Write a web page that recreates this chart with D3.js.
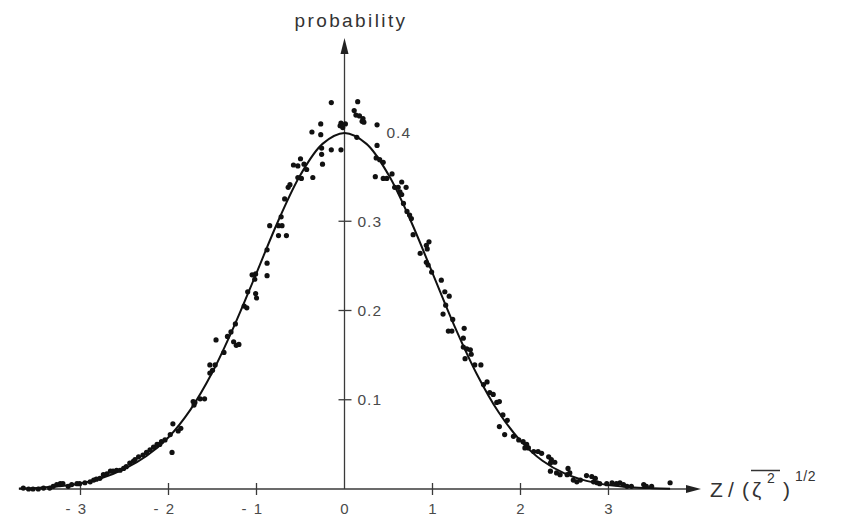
<!DOCTYPE html>
<html><head><meta charset="utf-8">
<script src="https://cdn.jsdelivr.net/npm/d3@7"></script>
<style>
html,body{margin:0;padding:0;background:#fff;}
svg{display:block;}
text{font-family:"Liberation Sans","DejaVu Sans",sans-serif;}
</style></head>
<body>
<svg id="chart" width="844" height="517"></svg>
<script>
// ---- data ----
const xTicks = [-3, -2, -1, 0, 1, 2, 3];
const xTickLabels = ["- 3", "- 2", "- 1", "0", "1", "2", "3"];
const yTicks = [0.1, 0.2, 0.3, 0.4];
const yTickLabels = ["0.1", "0.2", "0.3", "0.4"];
const yTitle = "probability";

// fitted curve
const curveZ = [-3.7,-3.5,-3.25,-3,-2.75,-2.5,-2.25,-2,-1.75,-1.5,-1.25,-1,-0.75,-0.5,-0.25,0,0.25,0.5,0.75,1,1.25,1.5,1.75,2,2.25,2.5,2.75,3,3.25,3.5,3.7];
const curveP = [0.0005,0.0012,0.003,0.0062,0.0125,0.0225,0.037,0.058,0.089,0.131,0.1835,0.242,0.3011,0.3521,0.3867,0.3989,0.3867,0.3521,0.3011,0.242,0.1826,0.1295,0.0863,0.054,0.0317,0.0175,0.0091,0.0044,0.002,0.0009,0.0004];

// measured points
const pointZ = [-3.65,-3.59,-3.54,-3.48,-3.42,-3.35,-3.31,-3.27,-3.23,-3.20,-3.14,-3.10,-3.04,-3.01,-2.95,-2.89,-2.85,-2.82,-2.78,-2.74,-2.70,-2.66,-2.63,-2.59,-2.55,-2.51,-2.48,-2.44,-2.40,-2.38,-2.34,-2.29,-2.25,-2.21,-2.17,-2.13,-2.10,-2.08,-2.04,-1.98,-1.96,-1.95,-1.89,-1.86,-1.72,-1.70,-1.71,-1.64,-1.59,-1.53,-1.47,-1.50,-1.53,-1.37,-1.46,-1.33,-1.29,-1.26,-1.23,-1.20,-1.24,-1.14,-1.11,-1.10,-1.01,-1.00,-1.05,-1.01,-1.02,-0.88,-0.88,-0.88,-0.85,-0.75,-0.71,-0.75,-0.66,-0.72,-0.68,-0.64,-0.62,-0.58,-0.53,-0.50,-0.46,-0.43,-0.53,-0.49,-0.36,-0.37,-0.27,-0.27,-0.26,-0.26,-0.25,-0.15,-0.15,-0.04,-0.04,-0.05,-0.02,0.01,
 0.15,0.11,0.13,0.17,0.21,0.20,0.22,0.37,0.14,0.37,0.36,0.44,0.40,0.35,0.44,0.48,0.54,0.57,0.61,0.65,0.70,0.63,0.65,0.67,0.71,0.74,0.76,0.78,0.86,0.93,0.96,0.94,0.93,0.95,0.99,1.10,1.14,1.19,1.15,1.12,1.23,1.18,1.22,1.36,1.35,1.35,1.39,1.43,1.44,1.37,1.48,1.55,1.58,1.62,1.65,1.69,1.73,1.76,1.80,1.85,1.76,1.82,1.92,1.98,2.03,2.07,2.09,2.05,2.15,2.20,2.24,2.32,2.35,2.39,2.34,2.34,2.41,2.54,2.56,2.53,2.45,2.60,2.64,2.68,2.75,2.81,2.83,2.87,2.85,2.90,2.98,3.04,3.09,3.13,3.17,3.21,3.26,3.40,3.43,3.49,3.70];
const pointP = [0.001,0.000,0.000,0.000,0.001,0.001,0.003,0.005,0.006,0.006,0.003,0.005,0.006,0.006,0.007,0.008,0.010,0.011,0.012,0.016,0.017,0.020,0.020,0.021,0.021,0.023,0.025,0.029,0.031,0.033,0.036,0.038,0.041,0.044,0.047,0.050,0.050,0.053,0.055,0.061,0.041,0.073,0.065,0.068,0.098,0.097,0.094,0.101,0.101,0.139,0.139,0.133,0.130,0.153,0.167,0.171,0.176,0.165,0.161,0.162,0.185,0.205,0.203,0.221,0.219,0.214,0.240,0.241,0.235,0.253,0.239,0.268,0.295,0.295,0.295,0.284,0.284,0.305,0.325,0.338,0.341,0.363,0.362,0.370,0.364,0.358,0.349,0.348,0.349,0.400,0.409,0.397,0.382,0.375,0.364,0.433,0.380,0.380,0.410,0.407,0.405,0.409,
 0.434,0.424,0.419,0.418,0.415,0.412,0.411,0.408,0.394,0.385,0.371,0.366,0.369,0.350,0.348,0.348,0.353,0.338,0.338,0.344,0.338,0.333,0.330,0.320,0.311,0.307,0.303,0.285,0.264,0.273,0.277,0.269,0.254,0.251,0.243,0.234,0.221,0.216,0.206,0.196,0.190,0.177,0.177,0.180,0.169,0.159,0.157,0.156,0.151,0.146,0.139,0.139,0.117,0.120,0.108,0.106,0.097,0.098,0.083,0.077,0.070,0.061,0.059,0.055,0.053,0.050,0.046,0.046,0.042,0.042,0.040,0.036,0.033,0.030,0.029,0.020,0.018,0.023,0.018,0.016,0.016,0.010,0.008,0.010,0.015,0.014,0.008,0.007,0.012,0.006,0.006,0.007,0.006,0.007,0.005,0.003,0.003,0.005,0.003,0.003,0.007];

// ---- drawing ----
const svg = d3.select("#chart");
const x = d3.scaleLinear().domain([0, 1]).range([344.5, 432.5]);
const y = d3.scaleLinear().domain([0, 0.4]).range([489, 132]);
const axisCol = "#3a3a3a";
const txtCol = "#4a4a4a";

// x axis line + arrow
svg.append("line").attr("x1", x(-3.7)).attr("x2", 690).attr("y1", y(0)).attr("y2", y(0))
  .attr("stroke", axisCol).attr("stroke-width", 1.3);
svg.append("path").attr("d", `M${686},${y(0)-4} L${701},${y(0)} L${686},${y(0)+4} Z`).attr("fill", "#222");

// y axis line + arrow
svg.append("line").attr("x1", x(0)).attr("x2", x(0)).attr("y1", y(0)).attr("y2", 50)
  .attr("stroke", axisCol).attr("stroke-width", 1.3);
svg.append("path").attr("d", `M${x(0)-4},${54} L${x(0)},${38} L${x(0)+4},${54} Z`).attr("fill", "#222");

// x ticks
xTicks.forEach((t, i) => {
  if (t !== 0) {
    svg.append("line").attr("x1", x(t)).attr("x2", x(t)).attr("y1", y(0) - 6).attr("y2", y(0) + 6)
      .attr("stroke", axisCol).attr("stroke-width", 1.3);
  }
  svg.append("text")
    .attr("x", t < 0 ? x(t) + 7 : x(t))
    .attr("y", 514)
    .attr("text-anchor", t < 0 ? "end" : "middle")
    .attr("font-size", 15).attr("fill", txtCol)
    .attr("letter-spacing", t < 0 ? 1.5 : 0)
    .text(xTickLabels[i]);
});

// y ticks
yTicks.forEach((t, i) => {
  if (t < 0.35) {
    svg.append("line").attr("x1", x(0) - 6).attr("x2", x(0) + 7).attr("y1", y(t)).attr("y2", y(t))
      .attr("stroke", axisCol).attr("stroke-width", 1.3);
  }
  svg.append("text")
    .attr("x", t < 0.35 ? x(0) + 13 : x(0) + 42)
    .attr("y", y(t) + 5.5)
    .attr("font-size", 15.5).attr("letter-spacing", 1).attr("fill", txtCol)
    .text(yTickLabels[i]);
});

// y title
svg.append("text").attr("x", 351).attr("y", 27).attr("text-anchor", "middle")
  .attr("font-size", 19).attr("letter-spacing", 2.4).attr("fill", "#333").text(yTitle);

// x title: Z / (ζ̄²)^1/2
const tg = svg.append("g").attr("fill", "#333");
tg.append("text").attr("x", 710).attr("y", 497).attr("font-size", 21).text("Z");
tg.append("text").attr("x", 728).attr("y", 497).attr("font-size", 21).text("/");
tg.append("text").attr("x", 742).attr("y", 497).attr("font-size", 21).text("(");
tg.append("text").attr("x", 752).attr("y", 497).attr("font-size", 21).text("ζ");
tg.append("text").attr("x", 767).attr("y", 483).attr("font-size", 14).text("2");
tg.append("text").attr("x", 783).attr("y", 497).attr("font-size", 21).text(")");
tg.append("text").attr("x", 795).attr("y", 481).attr("font-size", 14).attr("letter-spacing", 0.5).text("1/2");
svg.append("line").attr("x1", 751).attr("x2", 780).attr("y1", 470.5).attr("y2", 470.5)
  .attr("stroke", "#333").attr("stroke-width", 1.5);

// curve
const curveData = curveZ.map((z, i) => ({z, p: curveP[i]}));
svg.append("path").datum(curveData)
  .attr("d", d3.line().x(d => x(d.z)).y(d => y(d.p)).curve(d3.curveCatmullRom))
  .attr("fill", "none").attr("stroke", "#111").attr("stroke-width", 2);

// points
const pts = pointZ.map((z, i) => ({z, p: pointP[i]}));
svg.append("g").selectAll("circle").data(pts).join("circle")
  .attr("cx", d => x(d.z)).attr("cy", d => y(d.p)).attr("r", 2.6).attr("fill", "#111");
</script>
</body></html>
